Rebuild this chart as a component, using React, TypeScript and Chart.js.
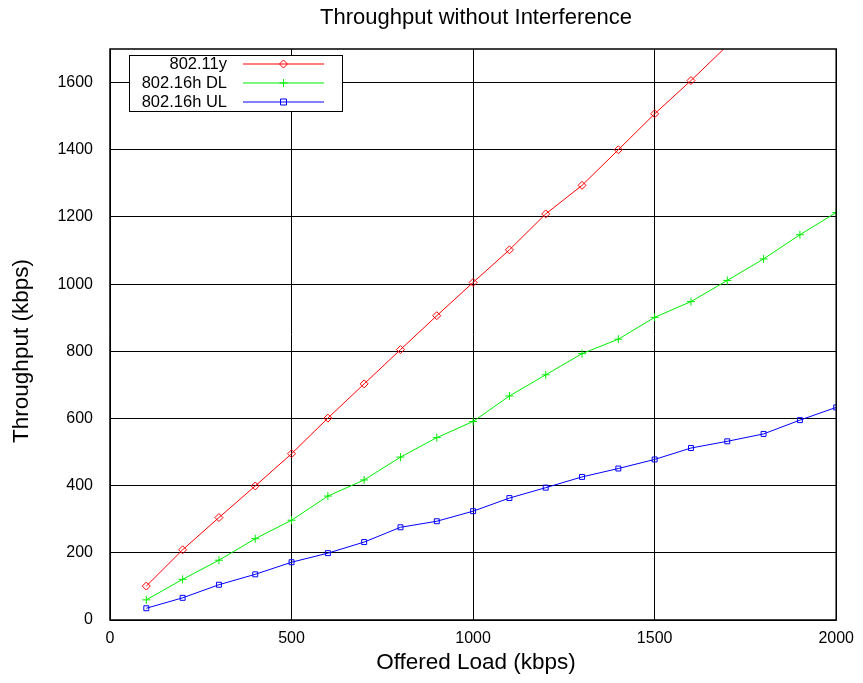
import React, { useEffect, useRef } from "react";
import { Chart, registerables } from "chart.js";

Chart.register(...registerables);

const loads = [100, 200, 300, 400, 500, 600, 700, 800, 900, 1000, 1100, 1200, 1300, 1400, 1500, 1600, 1700, 1800, 1900, 2000];
const wifi11y = [101, 209, 305, 399, 495, 601, 703, 805, 906, 1005, 1102, 1209, 1294, 1400, 1507, 1606, 1710];
const wimaxDL = [60, 121, 178, 242, 297, 369, 417, 485, 543, 591, 667, 730, 793, 836, 901, 948, 1011, 1075, 1147, 1213];
const wimaxUL = [35, 66, 105, 136, 172, 199, 232, 276, 294, 324, 363, 394, 426, 451, 478, 512, 532, 554, 595, 633];

const seriesNames = ["802.11y", "802.16h DL", "802.16h UL"];
const seriesColors = ["#ff0000", "#00ee00", "#0000ff"];
const seriesMarkers = ["rectRot", "cross", "rect"];

const xTicksMax = 2000;
const yMax = 1700;
const titleText = "Throughput without Interference";
const xTitle = "Offered Load (kbps)";
const yTitle = "Throughput (kbps)";

const FONT = "'Liberation Sans', Arial, sans-serif";

function drawMarker(ctx: CanvasRenderingContext2D, kind: string, x: number, y: number, color: string) {
  ctx.save();
  ctx.strokeStyle = color;
  ctx.lineWidth = 1;
  ctx.beginPath();
  if (kind === "rectRot") {
    ctx.moveTo(x, y - 4);
    ctx.lineTo(x + 4, y);
    ctx.lineTo(x, y + 4);
    ctx.lineTo(x - 4, y);
    ctx.closePath();
  } else if (kind === "cross") {
    ctx.moveTo(x - 4, y);
    ctx.lineTo(x + 4, y);
    ctx.moveTo(x, y - 4);
    ctx.lineTo(x, y + 4);
  } else {
    ctx.rect(x - 3, y - 3, 6, 6);
  }
  ctx.stroke();
  ctx.restore();
}

const decorPlugin = {
  id: "decor",
  afterDraw(chart: any) {
    const ctx: CanvasRenderingContext2D = chart.ctx;
    const a = chart.chartArea;
    ctx.save();
    // frame
    ctx.strokeStyle = "#000";
    ctx.lineWidth = 1.5;
    ctx.strokeRect(a.left, a.top, a.right - a.left, a.bottom - a.top);
    // title
    ctx.fillStyle = "#000";
    ctx.textAlign = "center";
    ctx.textBaseline = "middle";
    ctx.font = `22px ${FONT}`;
    ctx.fillText(titleText, 476, 18);
    ctx.font = `22.5px ${FONT}`;
    ctx.fillText(xTitle, 476, 663);
    ctx.save();
    ctx.translate(22, 351);
    ctx.rotate(-Math.PI / 2);
    ctx.fillText(yTitle, 0, 0);
    ctx.restore();
    // legend
    ctx.fillStyle = "#fff";
    ctx.fillRect(129.5, 55, 213, 56);
    ctx.strokeStyle = "#000";
    ctx.lineWidth = 1;
    ctx.strokeRect(129.5, 55.5, 213, 56);
    ctx.font = `16.5px ${FONT}`;
    ctx.textAlign = "right";
    const rows = [64, 83, 102];
    rows.forEach((ry, i) => {
      ctx.fillStyle = "#000";
      ctx.fillText(seriesNames[i], 227, ry);
      ctx.strokeStyle = seriesColors[i];
      ctx.lineWidth = 1.2;
      ctx.beginPath();
      ctx.moveTo(243, ry);
      ctx.lineTo(324, ry);
      ctx.stroke();
      drawMarker(ctx, seriesMarkers[i], 283.5, ry, seriesColors[i]);
    });
    ctx.restore();
  },
};

function toPoints(values: number[]) {
  return values.map((v, i) => ({ x: loads[i], y: v }));
}

export default function App() {
  const ref = useRef<HTMLCanvasElement | null>(null);
  useEffect(() => {
    if (!ref.current) return;
    const series = [wifi11y, wimaxDL, wimaxUL];
    const chart = new Chart(ref.current, {
      type: "line",
      data: {
        datasets: series.map((vals, i) => ({
          label: seriesNames[i],
          data: toPoints(vals),
          borderColor: seriesColors[i],
          backgroundColor: "rgba(0,0,0,0)",
          borderWidth: 1,
          pointStyle: seriesMarkers[i] as any,
          pointRadius: (c: any) => (c.raw && c.raw.y > yMax ? 0 : i === 2 ? 3.5 : 4),
          pointBorderWidth: 1,
          pointBorderColor: seriesColors[i],
          pointBackgroundColor: "rgba(0,0,0,0)",
          tension: 0,
        })),
      },
      options: {
        animation: false,
        responsive: false,
        events: [],
        layout: { padding: { left: 0, right: 26, top: 49, bottom: 0 } },
        plugins: {
          legend: { display: false },
          title: { display: false },
          tooltip: { enabled: false },
        },
        scales: {
          x: {
            type: "linear",
            min: 0,
            max: xTicksMax,
            ticks: {
              stepSize: 500,
              color: "#000",
              font: { size: 16, family: FONT },
              padding: 9,
              maxRotation: 0,
              callback: (v: any) => String(v),
            },
            grid: { color: "#000", lineWidth: 1, drawTicks: false },
            border: { display: false },
            afterFit: (s: any) => {
              s.height = 63;
            },
          },
          y: {
            type: "linear",
            min: 0,
            max: yMax,
            ticks: {
              stepSize: 200,
              color: "#000",
              font: { size: 16, family: FONT },
              padding: 17,
              callback: (v: any) => String(v),
            },
            grid: { color: "#000", lineWidth: 1, drawTicks: false },
            border: { display: false },
            afterBuildTicks: (s: any) => {
              s.ticks = s.ticks.filter((t: any) => t.value <= 1600);
            },
            afterFit: (s: any) => {
              s.width = 110;
            },
          },
        },
      },
      plugins: [decorPlugin],
    });
    return () => chart.destroy();
  }, []);
  return (
    <div style={{ position: "fixed", left: 0, top: 0, width: 863, height: 683, background: "#fff" }}>
      <canvas ref={ref} width={863} height={683} />
    </div>
  );
}
